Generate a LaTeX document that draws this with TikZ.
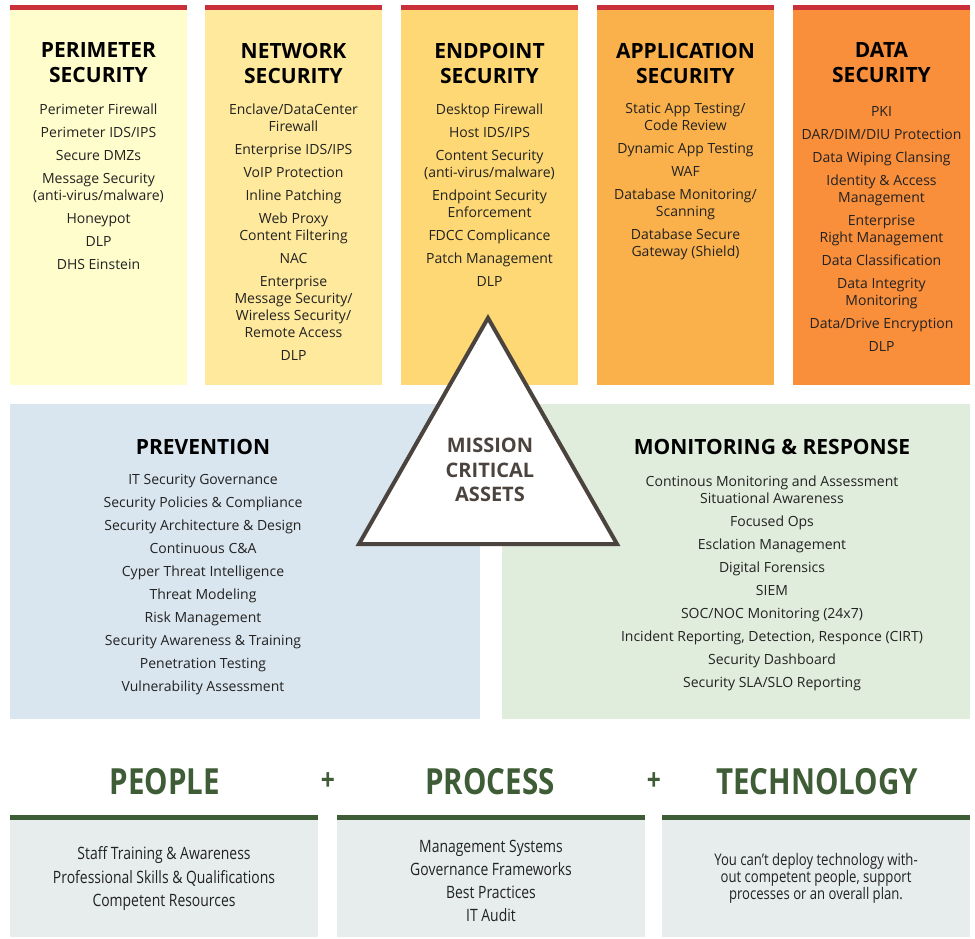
\documentclass[tikz,border=0pt]{standalone}
\usepackage{fontspec}
\setmainfont{Open Sans}
\newfontfamily\condsans{Open Sans}[FakeStretch=0.82]
\usepackage{xcolor}
\usetikzlibrary{positioning}
\definecolor{barred}{HTML}{C9303A}
\definecolor{perimfill}{HTML}{FFFDCC}
\definecolor{netfill}{HTML}{FFE99C}
\definecolor{endfill}{HTML}{FDD874}
\definecolor{appfill}{HTML}{FBB14B}
\definecolor{datafill}{HTML}{F98E3B}
\definecolor{prevfill}{HTML}{DAE6EF}
\definecolor{monfill}{HTML}{E0EDDC}
\definecolor{basefill}{HTML}{E7ECEC}
\definecolor{pinegreen}{HTML}{3E5C35}
\definecolor{taupe}{HTML}{4B433E}
\definecolor{inkgrey}{HTML}{222222}
\tikzset{
  col/.style={rectangle, fill=#1, minimum width=177pt, minimum height=375pt,
              anchor=north west, inner sep=0pt},
  pane/.style={rectangle, fill=#1, anchor=north west, inner sep=0pt},
  ttl/.style={font=\fontsize{21}{25}\selectfont\bfseries, align=center,
              inner sep=0pt, text=black},
  lst/.style={font=\fontsize{14}{17}\selectfont, align=center, inner sep=0pt,
              anchor=north, text=inkgrey},
  tri/.style={draw=taupe, fill=white, line width=4pt, line join=miter},
  big/.style={font=\condsans\fontsize{36}{40}\selectfont\bfseries,
              text=pinegreen, inner sep=0pt},
  plus/.style={font=\condsans\fontsize{30}{32}\selectfont\bfseries,
               text=pinegreen, inner sep=0pt},
  blst/.style={font=\condsans\fontsize{17}{17}\selectfont, align=center,
               inner sep=0pt, anchor=north, text=inkgrey},
}

\begin{document}
\begin{tikzpicture}[x=1pt, y=-1pt]
  \useasboundingbox (0,0) rectangle (975,939);

  % security columns
  \node[col=perimfill] (perim) at (10,10) {};
  \node[col=netfill]   (net)   at (205,10) {};
  \node[col=endfill]   (endp)  at (401,10) {};
  \node[col=appfill]   (app)   at (597,10) {};
  \node[col=datafill]  (data)  at (793,10) {};
  \foreach \c in {perim,net,endp,app,data}
    \fill[barred] (\c.north west) rectangle ([yshift=5pt]\c.north east);

  \node[ttl] (perimT) at (98.5,63) {PERIMETER\\SECURITY};
  \node[ttl] (netT)   at (293.5,63) {NETWORK\\SECURITY};
  \node[ttl] (endpT)  at (489.5,63) {ENDPOINT\\SECURITY};
  \node[ttl] (appT)   at (685.5,63) {APPLICATION\\SECURITY};
  \node[ttl] (dataT)  at (881.5,63) {DATA\\SECURITY};

  \node[lst] (perimL) at (98.5,103.5) {Perimeter Firewall\\[6pt]Perimeter IDS/IPS\\[6pt]Secure DMZs\\[6pt]
    Message Security\\(anti-virus/malware)\\[6pt]Honeypot\\[6pt]DLP\\[6pt]DHS Einstein};
  \node[lst] (netL) at (293.5,103.5) {Enclave/DataCenter\\Firewall\\[6pt]Enterprise IDS/IPS\\[6pt]
    VoIP Protection\\[6pt]Inline Patching\\[6pt]Web Proxy\\Content Filtering\\[6pt]NAC\\[6pt]
    Enterprise\\Message Security/\\Wireless Security/\\Remote Access\\[6pt]DLP};
  \node[lst] (endpL) at (489.5,103.5) {Desktop Firewall\\[6pt]Host IDS/IPS\\[6pt]
    Content Security\\(anti-virus/malware)\\[6pt]Endpoint Security\\Enforcement\\[6pt]
    FDCC Complicance\\[6pt]Patch Management\\[6pt]DLP};
  \node[lst] (appL) at (685.5,103.5) {Static App Testing/\\Code Review\\[6pt]Dynamic App Testing\\[6pt]
    WAF\\[6pt]Database Monitoring/\\Scanning\\[6pt]Database Secure\\Gateway (Shield)};
  \node[lst] (dataL) at (881.5,106) {PKI\\[6pt]DAR/DIM/DIU Protection\\[6pt]Data Wiping Clansing\\[6pt]
    Identity \& Access\\Management\\[6pt]Enterprise\\Right Management\\[6pt]
    Data Classification\\[6pt]Data Integrity\\Monitoring\\[6pt]Data/Drive Encryption\\[6pt]DLP};

  % prevention / monitoring panes
  \node[pane=prevfill, minimum width=470pt, minimum height=315pt] (prev) at (10,404) {};
  \node[pane=monfill, minimum width=468pt, minimum height=315pt] (mon) at (502,404) {};

  \node[ttl] (prevT) at (203,447) {PREVENTION};
  \node[lst] (prevL) at (203,474.5) {IT Security Governance\\[6pt]Security Policies \& Compliance\\[6pt]
    Security Architecture \& Design\\[6pt]Continuous C\&A\\[6pt]Cyper Threat Intelligence\\[6pt]
    Threat Modeling\\[6pt]Risk Management\\[6pt]Security Awareness \& Training\\[6pt]
    Penetration Testing\\[6pt]Vulnerability Assessment};

  \node[ttl] (monT) at (772,447) {MONITORING \& RESPONSE};
  \node[lst] (monL) at (772,475.5) {Continous Monitoring and Assessment\\Situational Awareness\\[6pt]
    Focused Ops\\[6pt]Esclation Management\\[6pt]Digital Forensics\\[6pt]SIEM\\[6pt]
    SOC/NOC Monitoring (24x7)\\[6pt]Incident Reporting, Detection, Responce (CIRT)\\[6pt]
    Security Dashboard\\[6pt]Security SLA/SLO Reporting};

  % mission critical assets
  \draw[tri] (488,318) -- (359,544) -- (617,544) -- cycle;
  \node[ttl, text=taupe, font=\fontsize{20}{24.5}\selectfont\bfseries] (core) at (490,470)
    {MISSION\\CRITICAL\\ASSETS};

  % people + process + technology
  \node[big]  (people) at (165,782) {PEOPLE};
  \node[plus] (plusA)  at (328,782) {+};
  \node[big]  (proc)   at (490,782) {PROCESS};
  \node[plus] (plusB)  at (654,782) {+};
  \node[big]  (tech)   at (817,782) {TECHNOLOGY};

  \node[pane=basefill, minimum width=308pt, minimum height=117pt] (peopleB) at (10,820) {};
  \node[pane=basefill, minimum width=308pt, minimum height=117pt] (procB)   at (337,820) {};
  \node[pane=basefill, minimum width=308pt, minimum height=117pt] (techB)   at (662,820) {};
  \foreach \c in {peopleB,procB,techB}
    \fill[pinegreen] (\c.north west) rectangle ([yshift=5pt]\c.north east);

  \node[blst] (peopleL) at (164,846) {Staff Training \& Awareness\\[6pt]
    Professional Skills \& Qualifications\\[6pt]Competent Resources};
  \node[blst] (procL) at (491,840) {Management Systems\\[6pt]Governance Frameworks\\[6pt]
    Best Practices\\[6pt]IT Audit};
  \node[blst, font=\condsans\fontsize{16}{17}\selectfont] (techL) at (816,853)
    {You can’t deploy technology with-\\out competent people, support\\processes or an overall plan.};
\end{tikzpicture}
\end{document}
